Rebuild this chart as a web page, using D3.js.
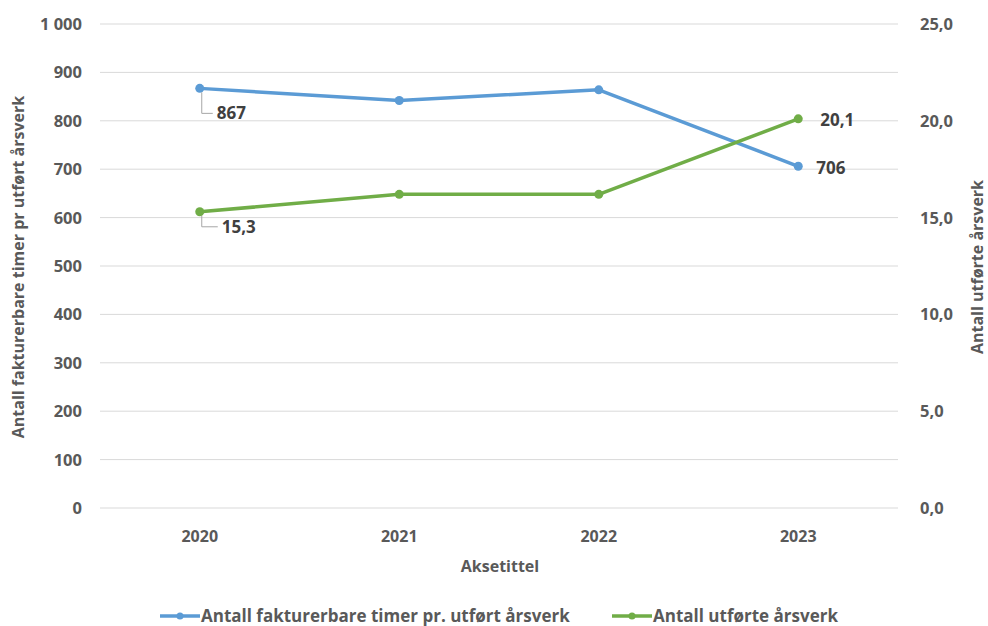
<!DOCTYPE html>
<html>
<head>
<meta charset="utf-8">
<script src="https://cdn.jsdelivr.net/npm/d3@7"></script>
<style>
  body { margin: 0; background: #fff; }
  svg text { font-family: "Open Sans", sans-serif; fill: #595959; font-weight: bold; }
</style>
</head>
<body>
<svg id="chart" width="988" height="626"></svg>
<script>
const years = ["2020", "2021", "2022", "2023"];
const timerPerArsverk = [867, 842, 864, 706];
const utforteArsverk = [15.3, 16.2, 16.2, 20.1];
const leftTicks = [0, 100, 200, 300, 400, 500, 600, 700, 800, 900, 1000];
const rightTicks = [0, 5, 10, 15, 20, 25];
const seriesNames = ["Antall fakturerbare timer pr. utført årsverk", "Antall utførte årsverk"];

const svg = d3.select("#chart");
const plotLeft = 100, plotRight = 898, plotTop = 24, plotBottom = 508;
const blue = "#5b9bd5", green = "#70ad47";

const x = d3.scaleBand().domain(years).range([plotLeft, plotRight]);
const cx = d => x(d) + x.bandwidth() / 2;
const yL = d3.scaleLinear().domain([0, 1000]).range([plotBottom, plotTop]);
const yR = d3.scaleLinear().domain([0, 25]).range([plotBottom, plotTop]);

// gridlines
svg.append("g").selectAll("line")
  .data(leftTicks)
  .enter().append("line")
  .attr("x1", plotLeft).attr("x2", plotRight)
  .attr("y1", d => yL(d)).attr("y2", d => yL(d))
  .attr("stroke", "#d9d9d9").attr("stroke-width", 1);

const nf = d3.formatLocale({ decimal: ",", thousands: " ", grouping: [3], currency: ["", ""] });

// left axis labels
svg.append("g").selectAll("text")
  .data(leftTicks)
  .enter().append("text")
  .attr("x", 82).attr("y", d => yL(d) + 6)
  .attr("text-anchor", "end")
  .attr("font-size", 16.5)
  .text(d => nf.format(",")(d));

// right axis labels
svg.append("g").selectAll("text")
  .data(rightTicks)
  .enter().append("text")
  .attr("x", 920).attr("y", d => yR(d) + 6)
  .attr("font-size", 16.5)
  .text(d => nf.format(".1f")(d));

// x labels
svg.append("g").selectAll("text")
  .data(years)
  .enter().append("text")
  .attr("x", cx).attr("y", 542)
  .attr("text-anchor", "middle")
  .attr("font-size", 16)
  .text(d => d);

// axis titles
svg.append("text")
  .attr("x", 500).attr("y", 572)
  .attr("text-anchor", "middle")
  .attr("font-size", 16)
  .text("Aksetittel");

svg.append("text")
  .attr("transform", "translate(24,267) rotate(-90)")
  .attr("text-anchor", "middle")
  .attr("font-size", 16)
  .text("Antall fakturerbare timer pr utført årsverk");

svg.append("text")
  .attr("transform", "translate(983,267) rotate(-90)")
  .attr("text-anchor", "middle")
  .attr("font-size", 16)
  .text("Antall utførte årsverk");

// lines
const lineL = d3.line().x((d, i) => cx(years[i])).y(d => yL(d));
const lineR = d3.line().x((d, i) => cx(years[i])).y(d => yR(d));

svg.append("path").datum(timerPerArsverk)
  .attr("d", lineL).attr("fill", "none")
  .attr("stroke", blue).attr("stroke-width", 3.5).attr("stroke-linejoin", "round");
svg.append("path").datum(utforteArsverk)
  .attr("d", lineR).attr("fill", "none")
  .attr("stroke", green).attr("stroke-width", 3.5).attr("stroke-linejoin", "round");

svg.append("g").selectAll("circle")
  .data(timerPerArsverk)
  .enter().append("circle")
  .attr("cx", (d, i) => cx(years[i])).attr("cy", d => yL(d))
  .attr("r", 4.5).attr("fill", blue);
svg.append("g").selectAll("circle")
  .data(utforteArsverk)
  .enter().append("circle")
  .attr("cx", (d, i) => cx(years[i])).attr("cy", d => yR(d))
  .attr("r", 4.5).attr("fill", green);

// data labels, two of them with leader lines
const lbl = (px, py, dx, dy, txt, leader) => {
  if (leader) {
    svg.append("path")
      .attr("d", `M${px + 2},${py + 4} L${px + 2},${py + dy - 5} L${px + dx - 4},${py + dy - 5}`)
      .attr("fill", "none").attr("stroke", "#a6a6a6").attr("stroke-width", 1);
  }
  svg.append("text")
    .attr("x", px + dx).attr("y", py + dy + 1)
    .attr("font-size", 17)
    .style("fill", "#404040")
    .text(txt);
};
lbl(cx(years[0]), yL(timerPerArsverk[0]), 17, 30, "867", true);
lbl(cx(years[3]), yL(timerPerArsverk[3]), 18, 7, "706", false);
lbl(cx(years[0]), yR(utforteArsverk[0]), 22, 20, nf.format(".1f")(utforteArsverk[0]), true);
lbl(cx(years[3]), yR(utforteArsverk[3]), 22, 6, nf.format(".1f")(utforteArsverk[3]), false);

// legend
const legX = [160, 612];
seriesNames.forEach((name, i) => {
  const c = i === 0 ? blue : green;
  const g = svg.append("g").attr("transform", `translate(${legX[i]},616)`);
  g.append("line").attr("x1", 0).attr("x2", 40).attr("y1", 0).attr("y2", 0)
    .attr("stroke", c).attr("stroke-width", 3.5);
  g.append("circle").attr("cx", 20).attr("cy", 0).attr("r", 3.5).attr("fill", c);
  g.append("text").attr("x", 41).attr("y", 6)
    .attr("font-size", 17)
    .text(name);
});
</script>
</body>
</html>
